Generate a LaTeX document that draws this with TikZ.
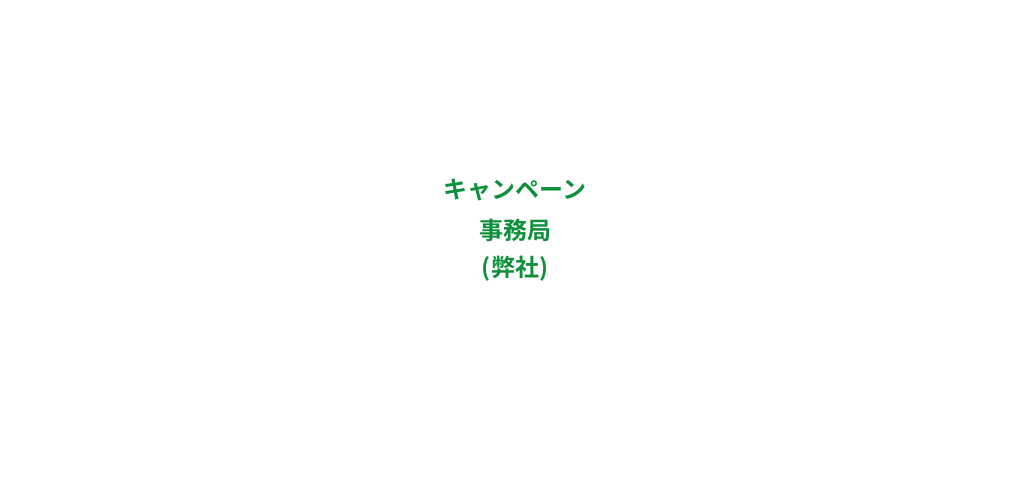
\documentclass[tikz,border=0pt]{standalone}
\usepackage{fontspec}
\newfontfamily\cjk{Noto Sans CJK JP Bold}
\definecolor{tgreen}{HTML}{0E8F3C}
\begin{document}
\begin{tikzpicture}[x=1pt,y=1pt,lbl/.style={text=tgreen,font=\cjk\fontsize{24}{28}\selectfont,inner sep=0pt}]
\useasboundingbox (0,0) rectangle (1024,476);
\node[lbl] (a) at (515,286) {キャンペーン};
\node[lbl] (b) at (515,246) {事務局};
\node[lbl] (c) at (515,207) {(弊社)};
\end{tikzpicture}
\end{document}
